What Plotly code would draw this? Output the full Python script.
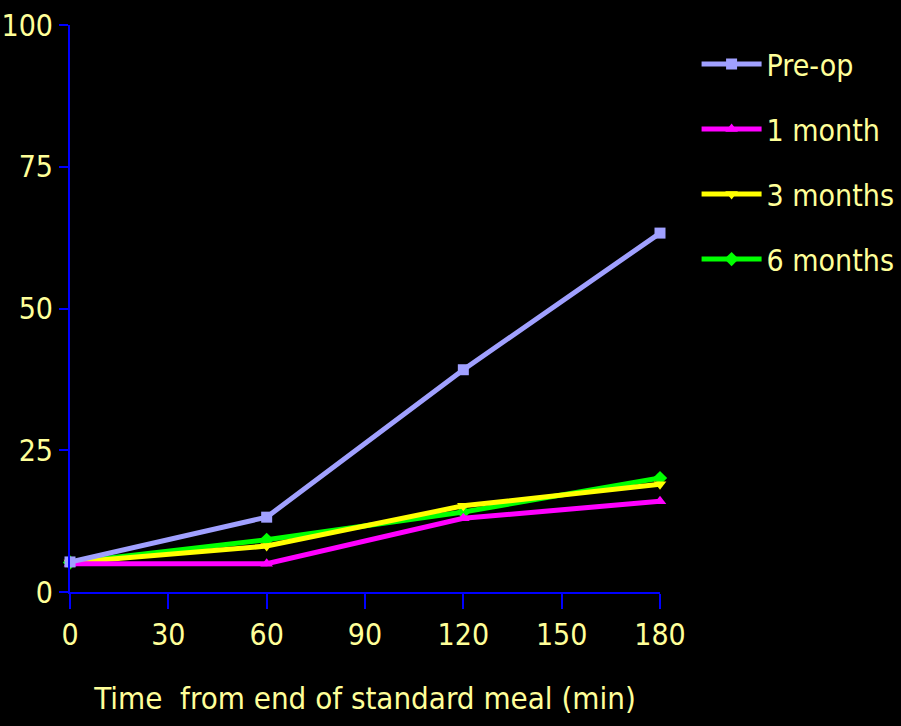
import plotly.graph_objects as go

time_min = [0, 60, 120, 180]
pre_op = [5.3, 13.2, 39.2, 63.3]
one_month = [5.0, 5.0, 13.0, 16.0]
three_months = [5.2, 8.1, 15.2, 19.0]
six_months = [5.2, 9.2, 14.1, 20.1]

series = [
    ("Pre-op", pre_op, "#a0a0ff", "square"),
    ("1 month", one_month, "#ff00ff", "triangle-up"),
    ("3 months", three_months, "#ffff00", "triangle-down"),
    ("6 months", six_months, "#00ff00", "diamond"),
]

FONT = "DejaVu Sans Condensed, Liberation Sans Narrow, Arial Narrow, sans-serif"
TXT = "#ffff99"
AX = "#0000ff"

fig = go.Figure()
for i, (name, vals, col, sym) in reversed(list(enumerate(series))):
    fig.add_trace(go.Scatter(
        x=time_min, y=vals, name=name, mode="lines+markers",
        line=dict(color=col, width=5),
        marker=dict(symbol=sym, size=11, color=col),
        legendgroup=f"g{i}", legendrank=i + 1, cliponaxis=False,
    ))

fig.add_shape(type="line", xref="x", yref="y domain", x0=0, x1=0, y0=0, y1=-0.027,
              line=dict(color=AX, width=2))

fig.update_layout(
    width=901, height=726,
    paper_bgcolor="black", plot_bgcolor="black",
    margin=dict(l=70, r=241, t=25, b=134, autoexpand=False),
    font=dict(family=FONT, color=TXT, size=30),
    showlegend=True,
    legend=dict(
        x=1.062, y=0.977, xanchor="left", yanchor="top",
        font=dict(family=FONT, size=30, color=TXT),
        bgcolor="rgba(0,0,0,0)", traceorder="grouped",
        tracegroupgap=23, itemwidth=60,
    ),
    xaxis=dict(
        range=[0, 180], tickvals=[0, 30, 60, 90, 120, 150, 180],
        showgrid=False, zeroline=False, showline=True, linecolor=AX, linewidth=2,
        ticks="outside", tickcolor=AX, ticklen=15, tickwidth=2,
        tickfont=dict(family=FONT, size=30, color=TXT),
        title=dict(text="Time\u00a0\u00a0from end of standard meal (min)",
                   font=dict(family=FONT, size=31, color=TXT), standoff=36),
    ),
    yaxis=dict(
        range=[0, 100], tickvals=[0, 25, 50, 75, 100],
        showgrid=False, zeroline=False, showline=True, linecolor=AX, linewidth=2,
        ticks="outside", tickcolor=AX, ticklen=9, tickwidth=2,
        tickfont=dict(family=FONT, size=30, color=TXT),
    ),
)

fig.write_html(
    "out.html",
    config={"displayModeBar": False},
    post_script="document.body.style.margin='0';document.body.style.background='black';",
)
